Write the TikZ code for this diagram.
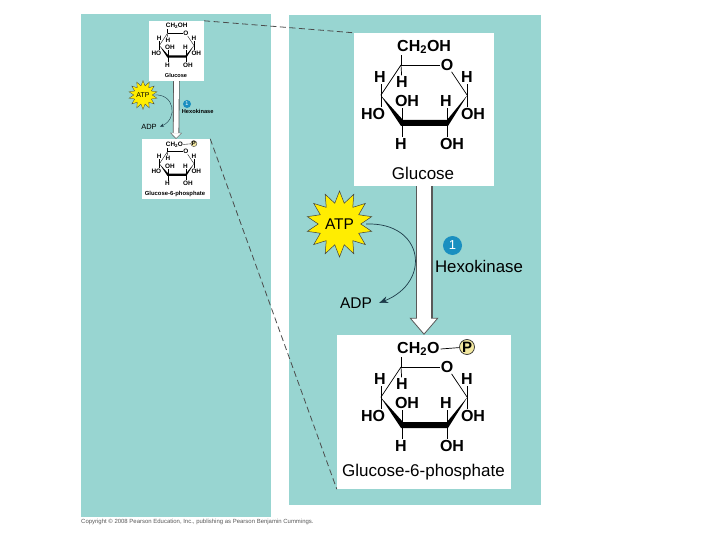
\documentclass[tikz,border=0pt]{standalone}
\usepackage{fontspec}
\setmainfont{Liberation Sans}
\usepackage{xcolor}
\usetikzlibrary{positioning,calc,arrows.meta,shapes.geometric}
\definecolor{panelteal}{HTML}{98D5D1}
\definecolor{stepblue}{HTML}{1A8FC0}
\definecolor{curvenavy}{HTML}{1C3A48}
\definecolor{phosyellow}{HTML}{F3E8A0}
\newcommand{\fsz}[1]{\fontsize{#1}{#1}\selectfont}
\tikzset{
  panel/.style      = {fill=panelteal, draw=none},
  whitebox/.style   = {fill=white, draw=none, inner sep=0pt},
  lbl/.style        = {inner sep=0pt},
  atomlbl/.style    = {font=\fsz{16}\bfseries, inner sep=1pt},
  burst/.style      = {star, star points=14, star point ratio=1.55, fill=yellow!95!orange, draw=black!75, line width=0.5pt, inner sep=0pt},
  stepdot/.style    = {circle, fill=stepblue, text=white, inner sep=0pt},
  zoomline/.style   = {dash pattern=on 6pt off 3.5pt, draw=black!70, line width=0.8pt},
  curvearrow/.style = {curvenavy, line width=0.7pt, -{Stealth[length=9pt,width=7pt]}},
  curvesmall/.style = {curvenavy, line width=0.4pt, -{Stealth[length=4pt,width=3pt]}},
}
% ring origin is the upper left carbon
\newcommand{\sugar}[6]{%
  \begin{scope}[shift={(#2,#3)}, scale=#4, every node/.append style={transform shape}]
    \foreach \nm/\x/\y in {c5/0/0, c1/66/30, c2/46/58, c3/1/58, c4/-20/30}
      \coordinate (#1\nm) at (\x,\y);
    \foreach \nm/\txt/\x/\y in {ox/O/46/0, hl/H/-21/12, hm/H/1/17, hr/H/66/12, ohm/OH/6/36, hn/H/45/36, ho/HO/-28/49, ohr/OH/72/49, hb/H/0/79, ohb/OH/51/79}
      \node[atomlbl] (#1\nm) at (\x,\y) {\txt};
    \node[atomlbl, anchor=west] (#1top) at (-5,-18) {#6};
    \draw[line width=#5] (#1c5) -- (#1ox);
    \draw[line width=#5] (#1ox) -- (#1c1);
    \draw[line width=#5] (#1c5) -- (#1c4);
    \draw[line width=#5] (#1c5) -- (#1c5|-#1top.south);
    \draw[line width=#5] (#1c5) -- (#1hm);
    \draw[line width=#5] (#1c4) -- (#1c4|-#1hl.south);
    \draw[line width=#5] (#1c4) -- (#1c4|-#1ho.north);
    \draw[line width=#5] (#1c3) -- (#1c3|-#1ohm.south);
    \draw[line width=#5] (#1c3) -- (#1c3|-#1hb.north);
    \draw[line width=#5] (#1c2) -- (#1c2|-#1hn.south);
    \draw[line width=#5] (#1c2) -- (#1c2|-#1ohb.north);
    \draw[line width=#5] (#1c1) -- (#1c1|-#1hr.south);
    \draw[line width=#5] (#1c1) -- (#1c1|-#1ohr.north);
    \fill[black] (-20.5,30) -- (2,55) -- (46,55) -- (66.5,30) -- (47,61) -- (0,61) -- cycle;
  \end{scope}
}
\newcommand{\phos}[5]{%
  \begin{scope}[shift={(#2,#3)}, scale=#4, every node/.append style={transform shape}]
    \node[circle, fill=phosyellow, draw=black!80, line width=#5, inner sep=0pt, minimum size=15pt, font=\fsz{15}\bfseries] (#1pp) at (66,-20) {P};
    \draw[line width=#5] (#1top.east) -- (#1pp);
  \end{scope}
}

\begin{document}
\begin{tikzpicture}[x=1pt,y=-1pt]
  \useasboundingbox (0,0) rectangle (720,540);
  \fill[white] (0,0) rectangle (720,540);
  \fill[panel] (81,14) rectangle (271,517);
  \fill[panel] (289,15) rectangle (541,505);

  % white boxes
  \node[whitebox, minimum width=55pt, minimum height=60pt] (glusmall) at (176.5,51) {};
  \node[whitebox, minimum width=68pt, minimum height=60pt] (g6psmall) at (176,169) {};
  \node[whitebox, minimum width=140pt, minimum height=153pt] (glubig) at (424,109.5) {};
  \node[whitebox, minimum width=174pt, minimum height=154pt] (g6pbig) at (424,412) {};

  % zoom lines
  \draw[zoomline] (glusmall.north east) -- (glubig.north west);
  \draw[zoomline] (g6psmall.north east) -- (g6pbig.south west);

  % reaction arrows
  \draw[draw=black!65, line width=17pt, -{Triangle[width=29pt,length=17pt,fill=white,line width=0.8pt]}] (glubig.south) -- (g6pbig.north);
  \draw[white, line width=14pt, shorten >=16pt] (glubig.south) -- (g6pbig.north);
  \draw[draw=black!65, line width=6.5pt, -{Triangle[width=12pt,length=6pt,fill=white,line width=0.4pt]}] (glusmall.south) -- (g6psmall.north);
  \draw[white, line width=4.8pt, shorten >=5.5pt] (glusmall.south) -- (g6psmall.north);

  % molecules
  \sugar{big}{401}{65}{1}{0.7pt}{CH\textsubscript{2}OH}
  \sugar{bot}{401}{367}{1}{0.7pt}{CH\textsubscript{2}O}
  \phos{bot}{401}{367}{1}{0.7pt}
  \sugar{sm}{167.5}{33.3}{0.4}{0.35pt}{CH\textsubscript{2}OH}
  \sugar{sb}{167.5}{151.6}{0.4}{0.35pt}{CH\textsubscript{2}O}
  \phos{sb}{167.5}{151.6}{0.4}{0.35pt}

  % captions
  \node[lbl, font=\fsz{17}] (glutxt) at (423,173) {Glucose};
  \node[lbl, font=\fsz{17}] (g6ptxt) at (423.5,472) {Glucose-6-phosphate};
  \node[lbl, font=\fsz{16.8}] (hextxt) at (479,266.5) {Hexokinase};
  \node[lbl, font=\fsz{15.5}] (adptxt) at (356,303) {ADP};
  \node[burst, minimum size=66pt, font=\fsz{15.5}] (atptxt) at (339.5,224) {ATP};
  \node[stepdot, minimum size=19pt, font=\fsz{13}] (stepone) at (452.5,245.5) {1};

  \node[lbl, font=\fsz{5.6}\bfseries] (glusm) at (176,76) {Glucose};
  \node[lbl, font=\fsz{5.9}\bfseries] (g6psm) at (175,194) {Glucose-6-phosphate};
  \node[lbl, font=\fsz{5.7}\bfseries] (hexsm) at (197.7,111.7) {Hexokinase};
  \node[lbl, font=\fsz{7.5}] (adpsm) at (149,126.7) {ADP};
  \node[burst, minimum size=27pt, line width=0.3pt, font=\fsz{7}] (atpsm) at (143,95) {ATP};
  \node[stepdot, minimum size=8pt, font=\fsz{5.5}] (stepsm) at (187,104) {1};

  % enzyme curves
  \draw[curvearrow] (atptxt.east) ++(5,0) .. controls (424,222) and (432,282) .. ([xshift=7pt]adptxt.east);
  \draw[curvesmall] (atpsm.east) ++(1,0) .. controls (175,93) and (178,119) .. ([xshift=3pt]adpsm.east);

  \node[lbl, anchor=west, text=black!65, font=\fsz{5.98}] (copytxt) at (81,522) {Copyright © 2008 Pearson Education, Inc., publishing as Pearson Benjamin Cummings.};
\end{tikzpicture}
\end{document}
